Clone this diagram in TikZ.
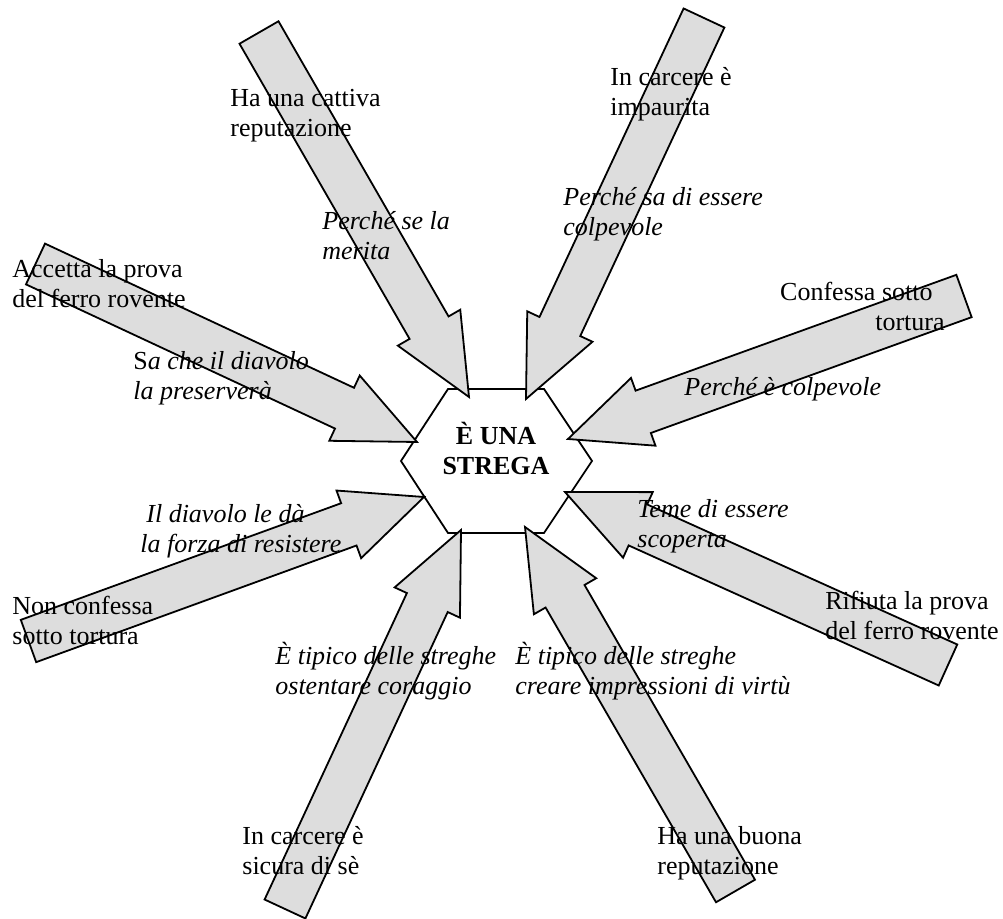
\documentclass[tikz,border=0pt]{standalone}
\usepackage{fontspec}
\setmainfont{Liberation Serif}
\usetikzlibrary{calc}
\definecolor{arrowgray}{RGB}{221,221,221}
\tikzset{
  fatarrow/.style={fill=arrowgray, draw=black, line width=0.9pt},
  lbl/.style={anchor=north west, inner sep=0pt, align=left,
    font=\fontsize{13}{15}\selectfont, execute at begin node=\strut},
  why/.style={lbl, font=\fontsize{13}{15}\selectfont\itshape}
}
% block arrow from tail #1 to tip #2
\newcommand{\bigarrow}[2]{%
  \filldraw[fatarrow] ($(#1)!11.25pt!90:(#2)$)
    -- ($(#2)!40pt!(#1)!11.25pt!90:(#2)$)
    -- ($(#2)!40pt!(#1)!18pt!90:(#2)$)
    -- (#2)
    -- ($(#2)!40pt!(#1)!18pt!-90:(#2)$)
    -- ($(#2)!40pt!(#1)!11.25pt!-90:(#2)$)
    -- ($(#1)!11.25pt!-90:(#2)$) -- cycle;}
\begin{document}
\begin{tikzpicture}[x=0.5pt, y=-0.5pt]
\useasboundingbox (0,0) rectangle (1003,919);

\draw[line width=0.9pt] (448,389) -- (544,389) -- (592,461) -- (544,533)
  -- (448,533) -- (401,461) -- cycle;

\coordinate (t1) at (259,32.5);  \coordinate (h1) at (469,397);
\coordinate (t2) at (704,18);    \coordinate (h2) at (526,399);
\coordinate (t3) at (964,296);   \coordinate (h3) at (568,439);
\coordinate (t4) at (35.5,264);  \coordinate (h4) at (417,442);
\coordinate (t5) at (28.5,641);  \coordinate (h5) at (424,497);
\coordinate (t6) at (948,665);   \coordinate (h6) at (565,492);
\coordinate (t7) at (285,909);   \coordinate (h7) at (461,530);
\coordinate (t8) at (735.5,891); \coordinate (h8) at (525,527);

\foreach \i in {1,...,8}
  \bigarrow{t\i}{h\i};

\node[lbl, anchor=north, align=center, font=\fontsize{13}{15}\selectfont\bfseries]
  (strega) at (496,422) {È UNA\\STREGA};

\node[lbl] (cattiva) at (230,89) {Ha una cattiva\\reputazione};
\node[why] (merita) at (322,211) {Perché se la\\merita};
\node[lbl] (impaurita) at (610,67) {In carcere è\\impaurita};
\node[why] (colpa1) at (563,187) {Perché sa di essere\\colpevole};
\node[lbl, anchor=north east, align=right] (confessa) at (945,282)
  {Confessa sotto\hspace*{6pt}\\tortura};
\node[why] (colpa2) at (684,374) {Perché è colpevole};
\node[lbl] (accetta) at (12,259) {Accetta la prova\\del ferro rovente};
\node[why] (preserva) at (133,351) {{\upshape S}a che il diavolo\\la preserverà};
\node[why] (forza) at (140,504) {\hspace*{3pt}Il diavolo le dà\\la forza di resistere};
\node[lbl] (nonconf) at (12,596) {Non confessa\\sotto tortura};
\node[why] (scoperta) at (637,499) {Teme di essere\\scoperta};
\node[lbl] (rifiuta) at (825,591) {Rifiuta la prova\\del ferro rovente};
\node[why] (coraggio) at (275,642) {È tipico delle streghe\\ostentare coraggio};
\node[why] (virtu) at (515,642) {È tipico delle streghe\\creare impressioni di virtù};
\node[lbl] (sicura) at (242,826) {In carcere è\\sicura di sè};
\node[lbl] (buona) at (657,826) {Ha una buona\\reputazione};

\end{tikzpicture}
\end{document}
